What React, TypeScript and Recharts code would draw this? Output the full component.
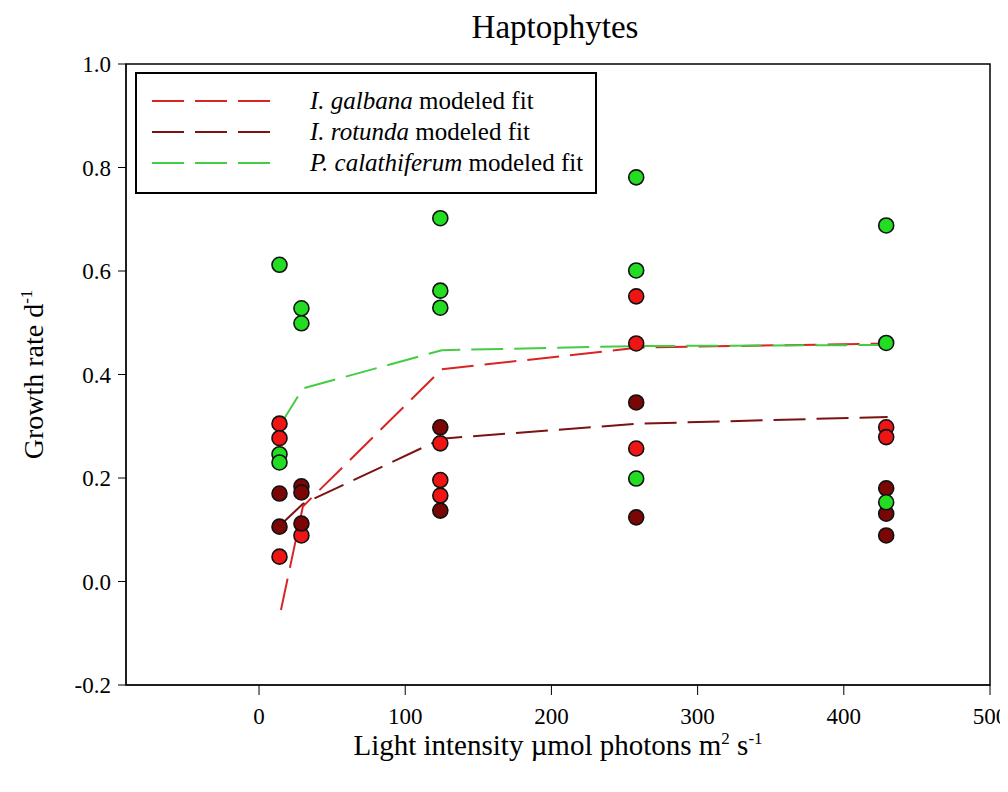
import { ComposedChart, Scatter, Line, XAxis, YAxis, ReferenceArea, Label } from 'recharts';

// measured growth rates
const galbanaX = [14, 14, 14, 29, 124, 124, 124, 258, 258, 258, 429, 429];
const galbanaY = [0.305, 0.277, 0.048, 0.089, 0.267, 0.196, 0.166, 0.551, 0.46, 0.257, 0.298, 0.279];

const rotundaX = [14, 14, 29, 29, 29, 124, 124, 258, 258, 429, 429, 429];
const rotundaY = [0.17, 0.106, 0.184, 0.172, 0.112, 0.298, 0.137, 0.346, 0.124, 0.18, 0.131, 0.089];

const calathX = [14, 14, 14, 29, 29, 124, 124, 124, 258, 258, 258, 429, 429, 429];
const calathY = [0.612, 0.246, 0.23, 0.528, 0.499, 0.702, 0.562, 0.529, 0.781, 0.601, 0.199, 0.688, 0.461, 0.153];

// modeled fits
const fitX = [15, 30, 125, 260, 430];
const galbanaFit = [-0.055, 0.145, 0.41, 0.452, 0.46];
const rotundaFit = [0.11, 0.15, 0.276, 0.305, 0.318];
const calathFit = [0.305, 0.373, 0.447, 0.455, 0.457];

const xTicks = [0, 100, 200, 300, 400, 500];
const yTicks = [-0.2, 0, 0.2, 0.4, 0.6, 0.8, 1.0];

const toPoints = (xs: number[], ys: number[]) => xs.map((x, i) => ({ x, y: ys[i] }));

const FONT = '"Liberation Serif", "Times New Roman", serif';

const colors = {
    galbana: { dot: '#ee1515', line: '#d82424' },
    rotunda: { dot: '#7a0606', line: '#7c1212' },
    calath: { dot: '#22dd22', line: '#44cc44' },
};

const dot = (fill: string) => (props: any) => (
    <circle cx={props.cx} cy={props.cy} r={7.5} fill={fill} stroke="#111" strokeWidth={1.6} />
);

const YLabel = ({ viewBox }: any) => {
    const cx = viewBox.x - 3;
    const cy = viewBox.y + viewBox.height / 2;
    return (
        <text x={cx} y={cy} transform={`rotate(-90 ${cx} ${cy})`} textAnchor="middle" fontFamily={FONT} fontSize={28} fill="#000">
            Growth rate d<tspan dy={-11} fontSize={17}>-1</tspan>
        </text>
    );
};

const XLabel = ({ viewBox }: any) => {
    const cx = viewBox.x + viewBox.width / 2;
    const cy = viewBox.y + 70;
    return (
        <text x={cx} y={cy} textAnchor="middle" fontFamily={FONT} fontSize={29} fill="#000">
            Light intensity µmol photons m<tspan dy={-11} fontSize={17}>2</tspan>
            <tspan dy={11}> s</tspan><tspan dy={-11} fontSize={17}>-1</tspan>
        </text>
    );
};

const legendRows = [
    { name: 'I. galbana', color: colors.galbana.line },
    { name: 'I. rotunda', color: colors.rotunda.line },
    { name: 'P. calathiferum', color: colors.calath.line },
];

export default function App() {
    return (
        <div style={{ position: 'relative', width: 1000, height: 784, background: '#fff' }}>
            <div style={{ position: 'absolute', left: 0, width: 1094, top: 1, textAlign: 'center', fontFamily: FONT, fontSize: 33, color: '#000' }}>
                Haptophytes
            </div>

            <ComposedChart width={1000} height={784} margin={{ top: 56, right: 18, left: 38, bottom: 47 }}>
                <XAxis
                    type="number"
                    dataKey="x"
                    domain={[-91, 500]}
                    ticks={xTicks}
                    allowDataOverflow
                    stroke="#000"
                    tickSize={10}
                    tickMargin={13}
                    height={60}
                    tick={{ fontFamily: FONT, fontSize: 23, fill: '#000' }}
                >
                    <Label content={<XLabel />} />
                </XAxis>
                <YAxis
                    type="number"
                    dataKey="y"
                    domain={[-0.2, 1.0]}
                    ticks={yTicks}
                    allowDataOverflow
                    stroke="#000"
                    tickSize={8}
                    tickMargin={7}
                    width={80}
                    tickFormatter={(v: number) => v.toFixed(1)}
                    tick={{ fontFamily: FONT, fontSize: 23, fill: '#000' }}
                >
                    <Label content={<YLabel />} />
                </YAxis>

                <ReferenceArea x1={-91} x2={500} y1={-0.2} y2={1.0} fill="none" stroke="#000" strokeWidth={1.5} />

                <Scatter data={toPoints(galbanaX, galbanaY)} shape={dot(colors.galbana.dot)} isAnimationActive={false} />
                <Scatter data={toPoints(rotundaX, rotundaY)} shape={dot(colors.rotunda.dot)} isAnimationActive={false} />
                <Scatter data={toPoints(calathX, calathY)} shape={dot(colors.calath.dot)} isAnimationActive={false} />

                <Line data={toPoints(fitX, galbanaFit)} dataKey="y" type="linear" stroke={colors.galbana.line} strokeWidth={2} strokeDasharray="32 11" dot={false} activeDot={false} isAnimationActive={false} />
                <Line data={toPoints(fitX, rotundaFit)} dataKey="y" type="linear" stroke={colors.rotunda.line} strokeWidth={2} strokeDasharray="32 11" dot={false} activeDot={false} isAnimationActive={false} />
                <Line data={toPoints(fitX, calathFit)} dataKey="y" type="linear" stroke={colors.calath.line} strokeWidth={2} strokeDasharray="32 11" dot={false} activeDot={false} isAnimationActive={false} />
            </ComposedChart>

            <div style={{ position: 'absolute', left: 127, top: 64, width: 458, height: 118, border: '2px solid #000', background: '#fff', fontFamily: FONT, fontSize: 25, color: '#000' }}>
                {legendRows.map((r, i) => (
                    <div key={r.name} style={{ position: 'absolute', left: 0, top: 14 + i * 31, height: 26, display: 'flex', alignItems: 'center' }}>
                        <svg width={160} height={26} style={{ display: 'block' }}>
                            <line x1={15} x2={140} y1={13} y2={13} stroke={r.color} strokeWidth={2} strokeDasharray="32 11" />
                        </svg>
                        <span style={{ marginLeft: 13, whiteSpace: 'nowrap' }}><i>{r.name}</i> modeled fit</span>
                    </div>
                ))}
            </div>
        </div>
    );
}
